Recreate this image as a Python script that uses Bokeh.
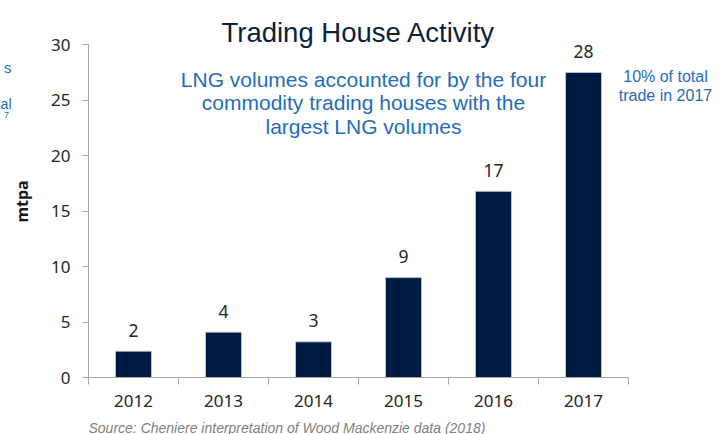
import math
from bokeh.plotting import figure
from bokeh.models import Range1d, FixedTicker, Label, ColumnDataSource
from bokeh.core.properties import value
from bokeh.embed import file_html
from bokeh.resources import INLINE

years = ["2012", "2013", "2014", "2015", "2016", "2017"]
volumes = [2.37, 4.08, 3.21, 9.0, 16.77, 27.48]
value_labels = ["2", "4", "3", "9", "17", "28"]
y_ticks = [0, 5, 10, 15, 20, 25, 30]

title_text = "Trading House Activity"
note_lines = ["LNG volumes accounted for by the four",
              "commodity trading houses with the",
              "largest LNG volumes"]
side_lines = ["10% of total", "trade in 2017"]
fragment_lines = ["s", "al", "7"]
source_text = "Source: Cheniere interpretation of Wood Mackenzie data (2018)"
y_label = "mtpa"

# canvas geometry (pixels)
W, H = 726, 434
X0_PX, Y0_PX = 88.0, 377.0      # pixel position of data origin
PX_X, PX_Y = 90.0, 11.1         # pixels per data unit


def dx(px):
    return (px - X0_PX) / PX_X


def dy(py):
    return (Y0_PX - py) / PX_Y


xs = [i + 0.5 for i in range(len(years))]
src = ColumnDataSource(dict(x=xs, top=volumes, lab=value_labels))

p = figure(width=W, height=H, output_backend="svg", toolbar_location=None, title=None,
           x_range=Range1d(dx(0), dx(W)), y_range=Range1d(dy(H), dy(0)),
           min_border_left=0, min_border_right=0, min_border_top=0, min_border_bottom=0)
p.outline_line_color = None
p.xgrid.grid_line_color = None
p.ygrid.grid_line_color = None

p.vbar(x="x", top="top", width=0.4, source=src, fill_color="#011a42",
       line_color="#c5ced9", line_width=0.8)
p.text(x="x", y="top", text="lab", source=src, text_align="center", text_baseline="middle",
       y_offset=-21, text_font=value("Noto Sans"), text_font_size="17.5px", text_color="#262626")

AX = "#a6a6a6"
TXT = "#262626"

# x axis drawn at y = 0
xa = p.xaxis[0]
xa.fixed_location = 0
xa.bounds = (0, 6)
xa.ticker = FixedTicker(ticks=xs, minor_ticks=list(range(7)))
xa.major_label_overrides = {x: y for x, y in zip(xs, years)}
xa.major_tick_out = 0
xa.major_tick_in = 0
xa.minor_tick_out = 7
xa.minor_tick_in = 0
xa.minor_tick_line_color = AX
xa.axis_line_color = AX
xa.major_label_standoff = 10
xa.major_label_text_font = "Noto Sans"
xa.major_label_text_font_size = "17px"
xa.major_label_text_color = TXT

# y axis drawn at x = 0
ya = p.yaxis[0]
ya.fixed_location = 0
ya.bounds = (0, 30)
ya.ticker = FixedTicker(ticks=y_ticks)
ya.major_tick_out = 6
ya.major_tick_in = 0
ya.minor_tick_out = 0
ya.minor_tick_in = 0
ya.major_tick_line_color = AX
ya.axis_line_color = AX
ya.major_label_standoff = 12
ya.major_label_text_font = "Noto Sans"
ya.major_label_text_font_size = "17px"
ya.major_label_text_color = TXT

p.add_layout(Label(x=dx(21), y=dy(201), text=y_label, angle=math.pi / 2,
                   text_align="center", text_baseline="middle",
                   text_font="Noto Sans", text_font_style="bold", text_font_size="16px",
                   text_color="#1a1a1a"))

p.add_layout(Label(x=dx(358), y=dy(31.7), text=title_text, text_align="center",
                   text_baseline="alphabetic", text_font="Liberation Sans",
                   text_font_size="27.5px", text_color="#0c1f3a"))

for line, base in zip(note_lines, [78.5, 102.0, 125.5]):
    p.add_layout(Label(x=dx(363), y=dy(base), text=line, text_align="center",
                       text_baseline="alphabetic", text_font="Liberation Sans",
                       text_font_size="21px", text_color="#1f6dbb"))

for line, base in zip(side_lines, [75.7, 95.0]):
    p.add_layout(Label(x=dx(665), y=dy(base), text=line, text_align="center",
                       text_baseline="alphabetic", text_font="Liberation Sans",
                       text_font_size="16px", text_color="#1f6dbb"))

for line, base, size, right in zip(fragment_lines, [66.7, 103.3, 114.0],
                                   ["15px", "14px", "9px"], [11, 11, 8.5]):
    p.add_layout(Label(x=dx(right), y=dy(base), text=line, text_align="right",
                       text_baseline="alphabetic", text_font="Liberation Sans",
                       text_font_size=size, text_color="#1f6dbb"))

p.add_layout(Label(x=dx(88), y=dy(427), text=source_text, text_align="left",
                   text_baseline="alphabetic", text_font="Liberation Sans",
                   text_font_style="italic", text_font_size="14px", text_color="#808080"))

open("out.html", "w").write(file_html(p, INLINE))
